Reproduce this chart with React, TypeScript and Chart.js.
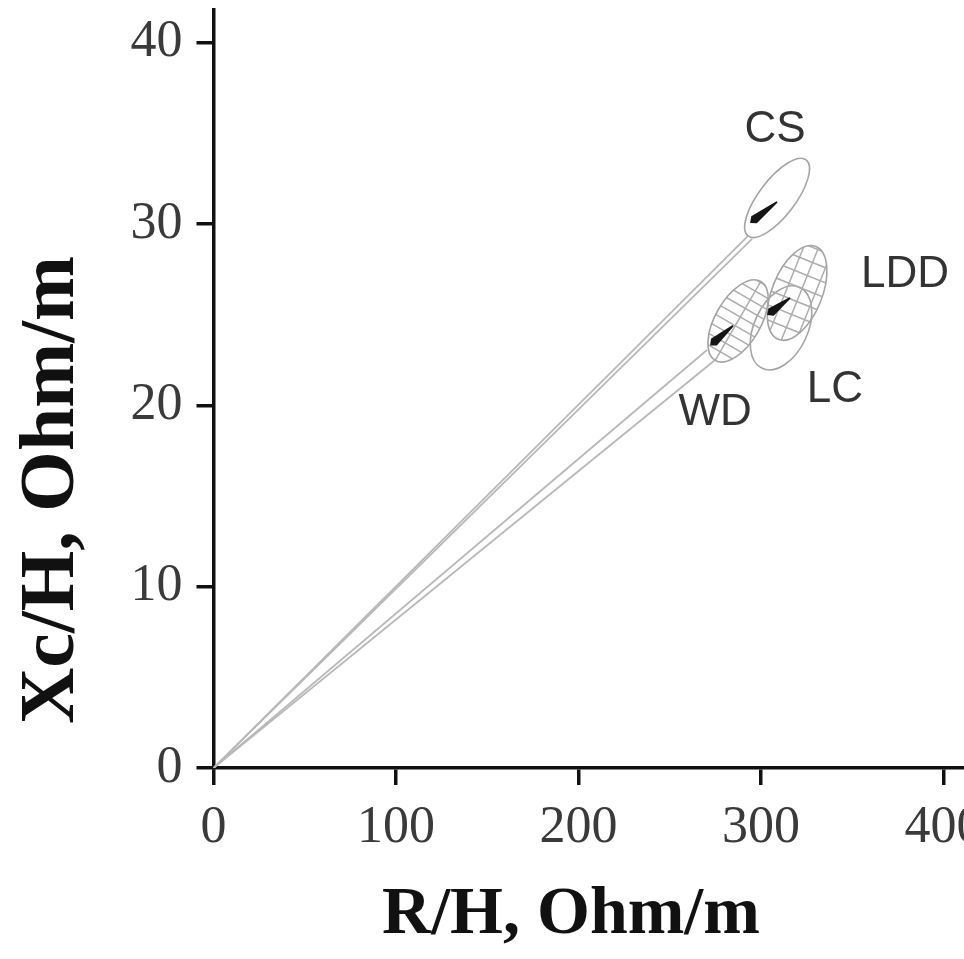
import React, { useEffect, useRef } from 'react';
import { Chart, registerables } from 'chart.js';

Chart.register(...registerables);

// Axis ticks
const xTicks = [0, 100, 200, 300, 400];
const yTicks = [0, 10, 20, 30, 40];

// Groups
const groupNames = ['CS', 'LDD', 'LC', 'WD'];
// Ellipse major-axis end points (R/H, Xc/H)
const ellLowR = [292.9, 309.5, 300.6, 274.9];
const ellLowX = [29.34, 23.64, 22.04, 22.48];
const ellHighR = [324.7, 330.0, 321.3, 299.9];
const ellHighX = [33.53, 28.76, 26.5, 26.83];
const ellRatio = [0.38, 0.5, 0.6, 0.5];
const ellHatch = ['none', 'grid', 'none', 'stripes'];
// Group label anchor values
const labelR = [307.7, 378.9, 340.5, 274.8];
const labelX = [35.2, 27.2, 20.85, 19.6];

// Arrows (tail -> head)
const arrowTailR = [308.8, 315.9, 284.7];
const arrowTailX = [31.22, 25.92, 24.4];
const arrowHeadR = [294.0, 303.3, 272.1];
const arrowHeadX = [30.06, 24.98, 23.3];

// Rays from origin
const rayEndR = [292.9, 295.1, 270.4, 274.8];
const rayEndX = [29.34, 29.18, 23.05, 22.5];

const xTitle = 'R/H, Ohm/m';
const yTitle = 'Xc/H, Ohm/m';

const CANVAS_SHIFT = 60;

const shapesPlugin = {
  id: 'shapes',
  afterDatasetsDraw(chart: any) {
    const { ctx, scales } = chart;
    const xs = scales.x;
    const ys = scales.y;
    const order = [2, 3, 1, 0];
    for (const i of order) {
      const x1 = xs.getPixelForValue(ellLowR[i]);
      const y1 = ys.getPixelForValue(ellLowX[i]);
      const x2 = xs.getPixelForValue(ellHighR[i]);
      const y2 = ys.getPixelForValue(ellHighX[i]);
      const cx = (x1 + x2) / 2;
      const cy = (y1 + y2) / 2;
      const a = Math.hypot(x2 - x1, y2 - y1) / 2;
      const b = a * ellRatio[i];
      const ang = Math.atan2(y2 - y1, x2 - x1);
      ctx.save();
      ctx.translate(cx, cy);
      ctx.rotate(ang);
      ctx.beginPath();
      ctx.ellipse(0, 0, a, b, 0, 0, Math.PI * 2);
      ctx.strokeStyle = '#a4a4a4';
      ctx.lineWidth = 1.6;
      if (ellHatch[i] !== 'none') {
        ctx.save();
        ctx.clip();
        ctx.strokeStyle = '#adadad';
        ctx.lineWidth = 1.5;
        ctx.beginPath();
        const step = ellHatch[i] === 'grid' ? 14 : 10;
        for (let t = -a; t <= a; t += step) {
          ctx.moveTo(t, -b);
          ctx.lineTo(t, b);
        }
        if (ellHatch[i] === 'grid') {
          for (let t = -b; t <= b; t += step) {
            ctx.moveTo(-a, t);
            ctx.lineTo(a, t);
          }
        } else {
          ctx.moveTo(-a, 0);
          ctx.lineTo(a, 0);
        }
        ctx.stroke();
        ctx.restore();
        ctx.beginPath();
        ctx.ellipse(0, 0, a, b, 0, 0, Math.PI * 2);
      }
      ctx.stroke();
      ctx.restore();
    }
    // arrows
    for (let i = 0; i < arrowTailR.length; i++) {
      const tx = xs.getPixelForValue(arrowTailR[i]);
      const ty = ys.getPixelForValue(arrowTailX[i]);
      const hx = xs.getPixelForValue(arrowHeadR[i]);
      const hy = ys.getPixelForValue(arrowHeadX[i]);
      const len = Math.hypot(hx - tx, hy - ty);
      const dx = (hx - tx) / len;
      const dy = (hy - ty) / len;
      const px = -dy;
      const py = dx;
      ctx.save();
      ctx.fillStyle = '#151515';
      ctx.beginPath();
      ctx.moveTo(tx + px * 0.8, ty + py * 0.8);
      ctx.lineTo(hx - dx * 5 + px * 4.5, hy - dy * 5 + py * 4.5);
      ctx.lineTo(hx, hy);
      ctx.lineTo(hx - dx * 5 - px * 4.5, hy - dy * 5 - py * 4.5);
      ctx.lineTo(tx - px * 0.8, ty - py * 0.8);
      ctx.closePath();
      ctx.fill();
      ctx.restore();
    }
    // group labels
    ctx.save();
    ctx.font = '44px "Liberation Sans", Arial, sans-serif';
    ctx.fillStyle = '#333';
    ctx.textAlign = 'center';
    ctx.textBaseline = 'middle';
    for (let i = 0; i < groupNames.length; i++) {
      ctx.fillText(groupNames[i], xs.getPixelForValue(labelR[i]), ys.getPixelForValue(labelX[i]));
    }
    ctx.restore();
  },
  afterDraw(chart: any) {
    const { ctx, chartArea } = chart;
    ctx.save();
    ctx.fillStyle = '#111';
    ctx.textAlign = 'center';
    ctx.textBaseline = 'middle';
    ctx.font = 'bold 68px "Liberation Serif", "Times New Roman", serif';
    ctx.fillText(xTitle, chartArea.left + 357.5, chartArea.bottom + 147);
    ctx.font = 'bold 78px "Liberation Serif", "Times New Roman", serif';
    ctx.translate(chartArea.left - 161, chartArea.bottom - 278);
    ctx.rotate(-Math.PI / 2);
    ctx.fillText(yTitle, 0, 0);
    ctx.restore();
  },
};

export default function App() {
  const ref = useRef<HTMLCanvasElement | null>(null);
  useEffect(() => {
    if (!ref.current) return;
    const rayColor = '#b8b8b8';
    const datasets = rayEndR.map((r, i) => ({
      label: 'ray' + i,
      data: [
        { x: 0, y: 0 },
        { x: r, y: rayEndX[i] },
      ],
      showLine: true,
      borderColor: rayColor,
      borderWidth: 1.8,
      pointRadius: 0,
      fill: false,
    }));
    const tickFont = { family: '"Liberation Serif", "Times New Roman", serif', size: 52 };
    const chart = new Chart(ref.current, {
      type: 'scatter',
      data: { datasets },
      options: {
        animation: false,
        responsive: false,
        devicePixelRatio: 1,
        layout: { padding: { left: 0, right: 46, top: 10 + CANVAS_SHIFT, bottom: 0 } },
        plugins: { legend: { display: false }, tooltip: { enabled: false } },
        scales: {
          x: {
            type: 'linear',
            min: 0,
            max: 411.2,
            afterBuildTicks: (s: any) => {
              s.ticks = xTicks.map((v) => ({ value: v }));
            },
            afterFit: (s: any) => {
              s.height = 191;
            },
            ticks: { font: tickFont, color: '#3a3a3a', padding: 12, maxRotation: 0, autoSkip: false },
            grid: { drawOnChartArea: false, drawTicks: true, tickLength: 17, lineWidth: 3.5, color: '#111' },
            border: { display: true, width: 3.5, color: '#111' },
          },
          y: {
            type: 'linear',
            min: 0,
            max: 41.8,
            afterBuildTicks: (s: any) => {
              s.ticks = yTicks.map((v) => ({ value: v }));
            },
            afterFit: (s: any) => {
              s.width = 213.5;
            },
            ticks: { font: tickFont, color: '#3a3a3a', padding: 14, autoSkip: false },
            grid: { drawOnChartArea: false, drawTicks: true, tickLength: 17, lineWidth: 3.5, color: '#111' },
            border: { display: true, width: 3.5, color: '#111' },
          },
        },
      },
      plugins: [shapesPlugin],
    });
    return () => chart.destroy();
  }, []);
  return (
    <div style={{ position: 'fixed', left: 0, top: 0, width: 964, height: 959, overflow: 'hidden', background: '#fff' }}>
      <canvas
        ref={ref}
        width={1010}
        height={959 + CANVAS_SHIFT}
        style={{ position: 'absolute', left: 0, top: -CANVAS_SHIFT, width: 1010, height: 959 + CANVAS_SHIFT, display: 'block' }}
      />
    </div>
  );
}
